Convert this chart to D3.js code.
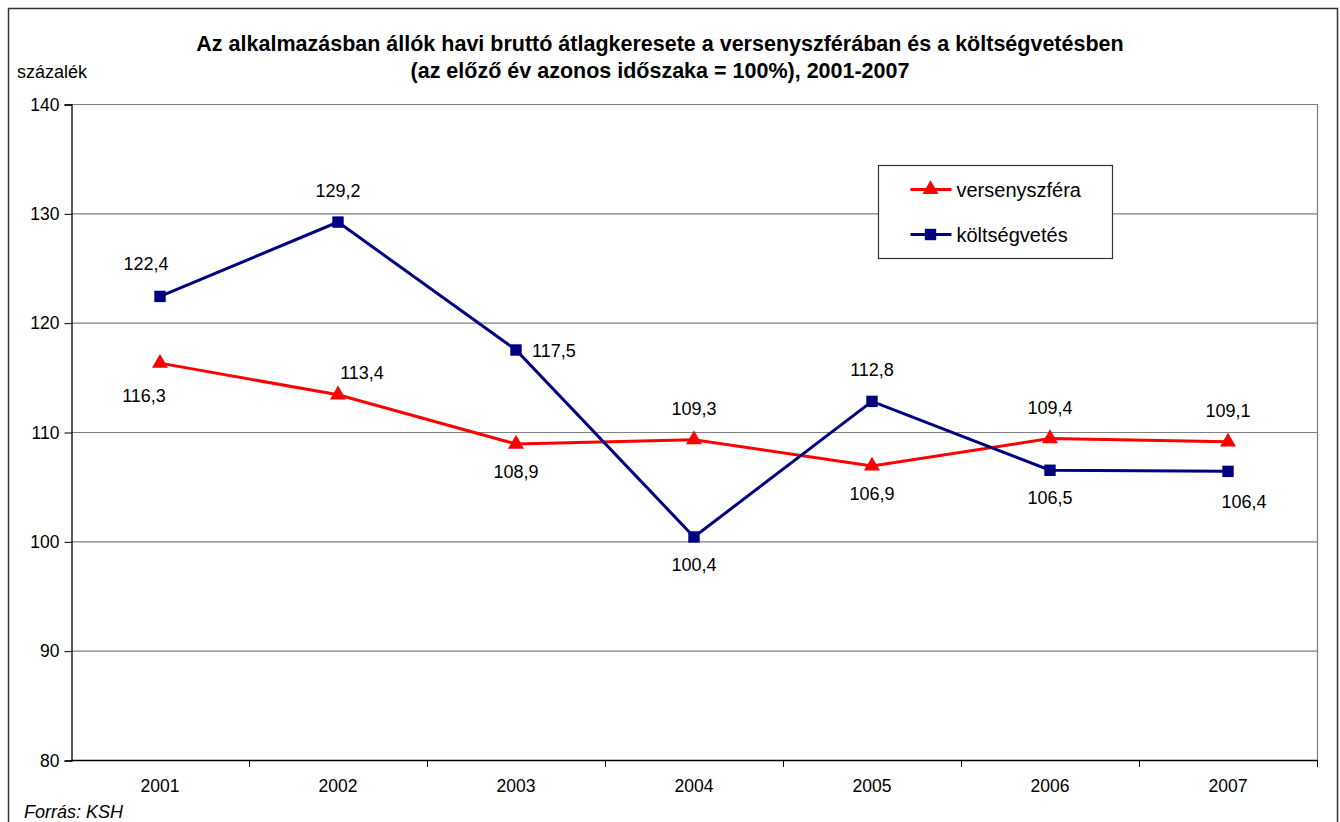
<!DOCTYPE html>
<html>
<head>
<meta charset="utf-8">
<script src="https://cdn.jsdelivr.net/npm/d3@7"></script>
<style>
  body { margin: 0; background: #fff; }
  svg text { font-family: "Liberation Sans", Arial, sans-serif; fill: #000; }
</style>
</head>
<body>
<svg id="chart" width="1340" height="822"></svg>
<script>
const years = ["2001", "2002", "2003", "2004", "2005", "2006", "2007"];
const versenyszfera = [116.3, 113.4, 108.9, 109.3, 106.9, 109.4, 109.1];
const koltsegvetes = [122.4, 129.2, 117.5, 100.4, 112.8, 106.5, 106.4];
// where Excel put each data label
const versenyPlace = ["belowLeft", "aboveRight", "below", "above", "below", "above", "above"];
const koltsegPlace = ["aboveLeft", "above", "right", "below", "above", "below", "belowRight"];
const yTicks = [80, 90, 100, 110, 120, 130, 140];

const svg = d3.select("#chart");
const m = { left: 71, right: 1317, top: 104, bottom: 760 };

// outer frame
svg.append("rect").attr("x", 8.5).attr("y", 8.5).attr("width", 1329).attr("height", 840)
  .attr("fill", "#fff").attr("stroke", "#333").attr("stroke-width", 1.5);

const x = d3.scaleBand().domain(years).range([m.left, m.right]);
const y = d3.scaleLinear().domain([80, 140]).range([m.bottom, m.top]);

// grid
svg.append("g").selectAll("line").data(yTicks.slice(1)).join("line")
  .attr("x1", m.left).attr("x2", m.right)
  .attr("y1", d => y(d) + 0.5).attr("y2", d => y(d) + 0.5)
  .attr("stroke", "#808080").attr("stroke-width", 1.2);
svg.append("line").attr("x1", m.right + 0.5).attr("x2", m.right + 0.5)
  .attr("y1", m.top).attr("y2", m.bottom).attr("stroke", "#808080").attr("stroke-width", 1.2);

// axes
const yAxis = d3.axisLeft(y).tickValues(yTicks).tickSize(7).tickPadding(5);
const gy = svg.append("g").attr("transform", `translate(${m.left + 0.5},0.5)`).call(yAxis);
const xAxis = d3.axisBottom(x).tickSize(0).tickPadding(19);
const gx = svg.append("g").attr("transform", `translate(0,${m.bottom + 0.5})`).call(xAxis);
[gy, gx].forEach(g => {
  g.select(".domain").attr("stroke", "#000").attr("stroke-width", 1.3);
  g.selectAll("line").attr("stroke", "#000");
  g.selectAll("text").style("font-size", "17.5px").attr("fill", "#000");
});
gx.select(".domain").attr("d", `M${m.left},0H${m.right}`);
// category boundary ticks
svg.append("g").selectAll("line").data(years).join("line")
  .attr("x1", d => x(d) + x.bandwidth() + 0.5)
  .attr("x2", d => x(d) + x.bandwidth() + 0.5)
  .attr("y1", m.bottom).attr("y2", m.bottom + 7).attr("stroke", "#000");

const cx = d => x(d) + x.bandwidth() / 2;
const line = d3.line().x(d => cx(d.year)).y(d => y(d.v));

const series = [
  { name: "versenyszféra", values: versenyszfera, place: versenyPlace, color: "#ff0000", shape: d3.symbolTriangle, size: 110 },
  { name: "költségvetés", values: koltsegvetes, place: koltsegPlace, color: "#000080", shape: d3.symbolSquare, size: 130 }
];

const offs = {
  above: [0, -25], below: [0, 34], right: [16, 7], aboveLeft: [-14, -26],
  aboveRight: [24, -16], belowLeft: [-16, 39], belowRight: [16, 37]
};

series.forEach(s => {
  const pts = s.values.map((v, i) => ({ year: years[i], v, place: s.place[i] }));
  svg.append("path").datum(pts).attr("d", line)
    .attr("fill", "none").attr("stroke", s.color).attr("stroke-width", 3);
  svg.append("g").selectAll("path").data(pts).join("path")
    .attr("d", d3.symbol().type(s.shape).size(s.size))
    .attr("transform", d => `translate(${cx(d.year)},${y(d.v)})`)
    .attr("fill", s.color);
  svg.append("g").selectAll("text").data(pts).join("text")
    .attr("x", d => cx(d.year) + offs[d.place][0])
    .attr("y", d => y(d.v) + offs[d.place][1])
    .attr("text-anchor", d => d.place === "right" ? "start" : "middle")
    .style("font-size", "18px")
    .text(d => d3.format(".1f")(d.v).replace(".", ","));
});

// legend
const lg = svg.append("g").attr("transform", "translate(878.5,165.5)");
lg.append("rect").attr("width", 234).attr("height", 93)
  .attr("fill", "#fff").attr("stroke", "#333").attr("stroke-width", 1.2);
series.forEach((s, i) => {
  const row = lg.append("g").attr("transform", `translate(0,${24 + i * 45})`);
  row.append("line").attr("x1", 32).attr("x2", 73).attr("stroke", s.color).attr("stroke-width", 3);
  row.append("path").attr("d", d3.symbol().type(s.shape).size(s.size))
    .attr("transform", "translate(52,0)").attr("fill", s.color);
  row.append("text").attr("x", 78).attr("y", 7).style("font-size", "20px").text(s.name);
});

// titles
svg.append("text").attr("x", 660).attr("y", 51).attr("text-anchor", "middle")
  .style("font-size", "21.5px").style("font-weight", "bold")
  .text("Az alkalmazásban állók havi bruttó átlagkeresete a versenyszférában és a költségvetésben");
svg.append("text").attr("x", 660).attr("y", 78).attr("text-anchor", "middle")
  .style("font-size", "21.5px").style("font-weight", "bold")
  .text("(az előző év azonos időszaka = 100%), 2001-2007");
svg.append("text").attr("x", 17).attr("y", 78).style("font-size", "18px").text("százalék");
svg.append("text").attr("x", 24).attr("y", 818).style("font-size", "18px")
  .style("font-style", "italic").text("Forrás: KSH");
</script>
</body>
</html>
